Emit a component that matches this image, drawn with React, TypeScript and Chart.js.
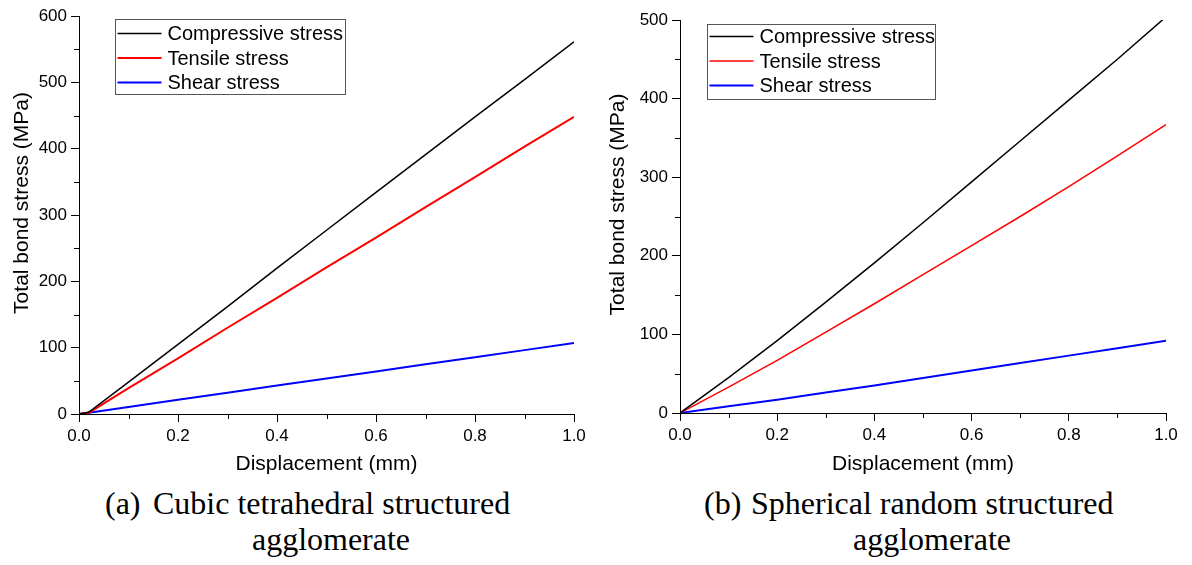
import React, { useEffect, useRef } from "react";
import { Chart, registerables } from "chart.js";

Chart.register(...registerables);

// ---- data ----
const cubicDisplacement = [0, 0.01, 0.02, 0.1, 0.2, 0.3, 0.4, 0.5, 0.6, 0.7, 0.8, 0.9, 1.0];
const cubicCompressive = [0, 1, 3, 48, 105, 162, 220, 277, 334, 391, 448, 504, 561];
const cubicTensile = [0, 1, 2, 39, 84, 130, 175, 221, 266, 312, 357, 403, 448];
const cubicShear = [0, 1, 2, 10.6, 21.4, 32.1, 42.8, 53.5, 64.2, 74.9, 85.6, 96.3, 107];

const sphericalDisplacement = [0, 0.1, 0.2, 0.3, 0.4, 0.5, 0.6, 0.7, 0.8, 0.9, 1.0];
const sphericalCompressive = [0, 45, 92, 141, 191, 242, 294, 346, 398, 450, 504];
const sphericalTensile = [0, 33, 67, 103, 139, 176, 213, 250, 288, 327, 367];
const sphericalShear = [0, 8.5, 17, 26, 35, 44.5, 54, 63.5, 73, 82.5, 92];

const seriesLabels = ["Compressive stress", "Tensile stress", "Shear stress"];
const seriesColors = ["#000000", "#ff0000", "#0000ff"];

const xMajorTicks = [0, 0.2, 0.4, 0.6, 0.8, 1.0];
const xMinorTicks = [0.1, 0.3, 0.5, 0.7, 0.9];
const cubicYMajorTicks = [0, 100, 200, 300, 400, 500, 600];
const cubicYMinorTicks = [50, 150, 250, 350, 450, 550];
const sphericalYMajorTicks = [0, 100, 200, 300, 400, 500];
const sphericalYMinorTicks = [50, 150, 250, 350, 450];

const xTitle = "Displacement (mm)";
const yTitle = "Total bond stress (MPa)";

const captionA = { tag: "(a)", lines: ["Cubic tetrahedral structured", "agglomerate"] };
const captionB = { tag: "(b)", lines: ["Spherical random structured", "agglomerate"] };

const SANS = "'Liberation Sans', Arial, Helvetica, sans-serif";
const SERIF = "'Liberation Serif', 'Times New Roman', Times, serif";

const CANVAS_W = 596;
const CANVAS_H = 480;

type PanelProps = {
  left: number;
  displacement: number[];
  series: number[][];
  widths: number[];
  yMax: number;
  yMajor: number[];
  yMinor: number[];
  area: { left: number; right: number; top: number; bottom: number };
  legendPos: { dx: number; dy: number; rowTop: number; padRight: number };
};

function Panel(props: PanelProps) {
  const ref = useRef<HTMLCanvasElement | null>(null);

  useEffect(() => {
    const canvas = ref.current;
    if (!canvas) return;
    const { displacement, series, widths, yMax, yMajor, yMinor, area, legendPos } = props;

    const decorations = {
      id: "panelDecorations",
      afterDraw(chart: any) {
        const { ctx, chartArea } = chart;
        const xs = chart.scales.x;
        const ys = chart.scales.y;
        ctx.save();

        // minor tick marks
        ctx.strokeStyle = "#000";
        ctx.lineWidth = 1;
        ctx.beginPath();
        for (const v of xMinorTicks) {
          const px = Math.round(xs.getPixelForValue(v)) + 0.5;
          ctx.moveTo(px, chartArea.bottom);
          ctx.lineTo(px, chartArea.bottom + 5);
        }
        for (const v of yMinor) {
          const py = Math.round(ys.getPixelForValue(v)) + 0.5;
          ctx.moveTo(chartArea.left - 5, py);
          ctx.lineTo(chartArea.left, py);
        }
        ctx.stroke();

        // vertical axis title
        ctx.fillStyle = "#000";
        ctx.font = `21px ${SANS}`;
        ctx.textAlign = "center";
        ctx.textBaseline = "middle";
        ctx.translate(22, (chartArea.top + chartArea.bottom) / 2 - 12);
        ctx.rotate(-Math.PI / 2);
        ctx.fillText(yTitle, 0, 0);
        ctx.setTransform(1, 0, 0, 1, 0, 0);

        // inset legend
        ctx.font = `20px ${SANS}`;
        const datasets = chart.data.datasets;
        let textW = 0;
        for (const ds of datasets) textW = Math.max(textW, ctx.measureText(ds.label).width);
        const bx = Math.round(chartArea.left + legendPos.dx) + 0.5;
        const by = Math.round(chartArea.top + legendPos.dy) + 0.5;
        const bw = Math.round(52 + textW + legendPos.padRight);
        const bh = 75;
        ctx.fillStyle = "#fff";
        ctx.fillRect(bx, by, bw, bh);
        ctx.strokeStyle = "#555";
        ctx.lineWidth = 1;
        ctx.strokeRect(bx, by, bw, bh);
        ctx.textAlign = "left";
        ctx.textBaseline = "middle";
        datasets.forEach((ds: any, i: number) => {
          const ry = by + legendPos.rowTop + i * 24.5;
          ctx.strokeStyle = ds.borderColor;
          ctx.lineWidth = ds.borderWidth;
          ctx.beginPath();
          ctx.moveTo(bx + 2, ry);
          ctx.lineTo(bx + 46, ry);
          ctx.stroke();
          ctx.fillStyle = "#000";
          ctx.fillText(ds.label, bx + 52, ry + 1);
        });
        ctx.restore();
      },
    };

    const gridOpts = {
      display: true,
      drawOnChartArea: false,
      drawTicks: true,
      tickLength: 8,
      color: "#000",
      tickColor: "#000",
      tickWidth: 1,
    };
    const borderOpts = { display: true, color: "#000", width: 1 };

    const chart = new Chart(canvas, {
      type: "line",
      data: {
        datasets: series.map((values, i) => ({
          label: seriesLabels[i],
          data: displacement.map((x, j) => ({ x, y: values[j] })),
          borderColor: seriesColors[i],
          backgroundColor: seriesColors[i],
          borderWidth: widths[i],
          pointRadius: 0,
          tension: 0,
          fill: false,
        })),
      },
      options: {
        animation: false,
        responsive: false,
        maintainAspectRatio: false,
        events: [],
        layout: {
          padding: { top: area.top, right: CANVAS_W - area.right, bottom: 0, left: 0 },
        },
        plugins: {
          legend: { display: false },
          tooltip: { enabled: false },
          title: { display: false },
        },
        scales: {
          x: {
            type: "linear",
            min: 0,
            max: 1,
            afterBuildTicks: (s: any) => {
              s.ticks = xMajorTicks.map((value) => ({ value }));
            },
            afterFit: (s: any) => {
              s.height = CANVAS_H - area.bottom;
            },
            grid: gridOpts,
            border: borderOpts,
            ticks: {
              color: "#000",
              font: { family: SANS, size: 17 },
              padding: 4,
              maxRotation: 0,
              autoSkip: false,
              callback: (v: any) => Number(v).toFixed(1),
            },
            title: {
              display: true,
              text: xTitle,
              color: "#000",
              font: { family: SANS, size: 21 },
              padding: { top: 0, bottom: 3 },
            },
          },
          y: {
            type: "linear",
            min: 0,
            max: yMax,
            afterBuildTicks: (s: any) => {
              s.ticks = yMajor.map((value) => ({ value }));
            },
            afterFit: (s: any) => {
              s.width = area.left;
            },
            grid: gridOpts,
            border: borderOpts,
            ticks: {
              color: "#000",
              font: { family: SANS, size: 17 },
              padding: 4,
              autoSkip: false,
              callback: (v: any) => String(v),
            },
            title: { display: false },
          },
        },
      } as any,
      plugins: [decorations],
    });

    return () => chart.destroy();
  }, []);

  return (
    <canvas
      ref={ref}
      width={CANVAS_W}
      height={CANVAS_H}
      style={{ position: "absolute", left: props.left, top: 0, width: CANVAS_W, height: CANVAS_H, display: "block" }}
    />
  );
}

function Caption(props: { tag: string; lines: string[]; tagLeft: number; blockLeft: number; blockWidth: number }) {
  const common: React.CSSProperties = {
    position: "absolute",
    top: 485,
    fontFamily: SERIF,
    fontSize: 32,
    lineHeight: "36px",
    color: "#000",
    whiteSpace: "nowrap",
  };
  return (
    <>
      <div style={{ ...common, left: props.tagLeft }}>{props.tag}</div>
      <div style={{ ...common, left: props.blockLeft, width: props.blockWidth, textAlign: "center" }}>
        {props.lines.map((l, i) => (
          <div key={i}>{l}</div>
        ))}
      </div>
    </>
  );
}

export default function App() {
  return (
    <div
      style={{
        position: "fixed",
        left: 0,
        top: 0,
        width: 1192,
        height: 565,
        background: "#fff",
        overflow: "hidden",
      }}
    >
      <Panel
        left={0}
        displacement={cubicDisplacement}
        series={[cubicCompressive, cubicTensile, cubicShear]}
        widths={[1.5, 2, 2]}
        yMax={600}
        yMajor={cubicYMajorTicks}
        yMinor={cubicYMinorTicks}
        area={{ left: 79, right: 574, top: 16, bottom: 414 }}
        legendPos={{ dx: 36, dy: 3, rowTop: 14, padRight: 2 }}
      />
      <Panel
        left={596}
        displacement={sphericalDisplacement}
        series={[sphericalCompressive, sphericalTensile, sphericalShear]}
        widths={[1.5, 1.5, 2]}
        yMax={500}
        yMajor={sphericalYMajorTicks}
        yMinor={sphericalYMinorTicks}
        area={{ left: 84, right: 570, top: 20, bottom: 413 }}
        legendPos={{ dx: 27, dy: 4, rowTop: 12, padRight: 0 }}
      />
      <Caption tag={captionA.tag} lines={captionA.lines} tagLeft={105} blockLeft={153} blockWidth={356} />
      <Caption tag={captionB.tag} lines={captionB.lines} tagLeft={704} blockLeft={751} blockWidth={362} />
    </div>
  );
}
